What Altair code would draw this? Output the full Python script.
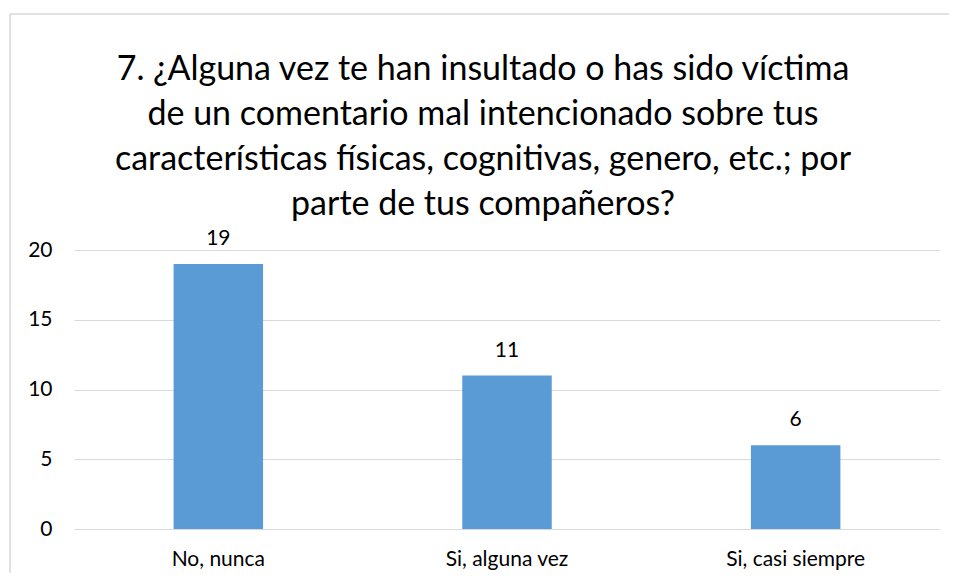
import altair as alt
import pandas as pd

categories = ["No, nunca", "Si, alguna vez", "Si, casi siempre"]
values = [19, 11, 6]
title_lines = [
    "7. ¿Alguna vez te han insultado o has sido víctima",
    "de un comentario mal intencionado sobre tus",
    "características físicas, cognitivas, genero, etc.; por",
    "parte de tus compañeros?",
]
y_ticks = [0, 5, 10, 15, 20]

df = pd.DataFrame({"cat": categories, "val": values})
FONT = "Lato"

base = alt.Chart(df).encode(
    x=alt.X("cat:N", sort=categories, title=None,
            scale=alt.Scale(paddingInner=0.69, paddingOuter=0.345),
            axis=alt.Axis(labelAngle=0, labelFontSize=21, labelFont=FONT, labelColor="#000000",
                          labelPadding=19, ticks=False, domain=False)),
    y=alt.Y("val:Q", title=None,
            scale=alt.Scale(domain=[0, 20]),
            axis=alt.Axis(values=y_ticks, labelFontSize=21, labelFont=FONT, labelColor="#000000",
                          labelPadding=22, ticks=False, domain=False, gridColor="#d9d9d9",
                          gridWidth=1)),
)

bars = base.mark_bar(color="#5B9BD5")
labels = base.mark_text(dy=-19, fontSize=21, font=FONT, color="#000000",
                        baseline="alphabetic").encode(text="val:Q")

frame_df = pd.DataFrame({"k": [0]})
left_border = alt.Chart(frame_df).mark_rule(color="#d9d9d9", strokeWidth=1.5).encode(
    x=alt.value(-64), y=alt.value(-236), y2=alt.value(335))
top_border = alt.Chart(frame_df).mark_rule(color="#d9d9d9", strokeWidth=1.5).encode(
    x=alt.value(-64), x2=alt.value(900), y=alt.value(-236))

chart = (left_border + top_border + bars + labels).properties(
    width=866, height=279,
    padding={"left": 66, "top": 242, "right": 9, "bottom": 44},
    autosize=alt.AutoSizeParams(type="none"),
    title=alt.Title(title_lines, font=FONT, fontSize=34, fontWeight="normal", color="#000000",
                    lineHeight=45, anchor="middle", dx=-24, offset=-209),
).configure_view(stroke=None)

chart.save("out.html", embed_options={"renderer": "svg", "actions": False})
